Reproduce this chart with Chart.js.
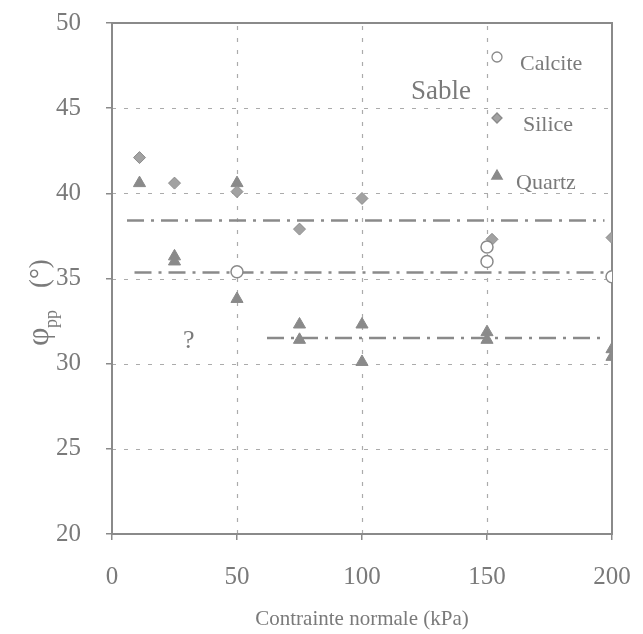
<!DOCTYPE html>
<html>
<head>
<meta charset="utf-8">
<script src="https://cdn.jsdelivr.net/npm/chart.js@4.4.0/dist/chart.umd.min.js"></script>
<style>
html,body{margin:0;padding:0;background:#fff;}
#wrap{width:643px;height:634px;position:relative;}
</style>
</head>
<body>
<div id="wrap"><canvas id="chart"></canvas></div>
<script>
// axis ticks
const xTicks = [0, 50, 100, 150, 200];
const yTicks = [20, 25, 30, 35, 40, 45, 50];

// Sable - Calcite
const calciteX = [50, 150, 150, 200];
const calciteY = [35.4, 36.85, 36.0, 35.1];

// Sable - Silice
const siliceX = [11, 25, 50, 75, 100, 152, 200];
const siliceY = [42.1, 40.6, 40.1, 37.9, 39.7, 37.3, 37.4];

// Sable - Quartz
const quartzX = [11, 25, 25, 50, 50, 75, 75, 100, 100, 150, 150, 200, 200];
const quartzY = [40.6, 36.3, 36.0, 40.6, 33.8, 32.3, 31.4, 32.3, 30.1, 31.85, 31.4, 30.85, 30.4];

// dash-dot mean lines
const meanLevels = [38.4, 35.35, 31.5];
const meanFrom = [6, 9, 62];
const meanTo = [197, 198, 198];

const GREY = "#8a8a8a";
const TXT = "#7a7a7a";
const SERIF = "'Liberation Serif', 'DejaVu Serif', serif";

function pts(xs, ys){
  return xs.map((x, i) => ({x: x, y: ys[i]}));
}

const datasets = [
  {
    label: "Calcite",
    data: pts(calciteX, calciteY),
    pointStyle: "circle",
    pointRadius: 6,
    pointBackgroundColor: "#fff",
    pointBorderColor: GREY,
    pointBorderWidth: 1.5,
    showLine: false
  },
  {
    label: "Silice",
    data: pts(siliceX, siliceY),
    pointStyle: "rectRot",
    pointRadius: 6,
    pointBackgroundColor: "#a2a2a2",
    pointBorderColor: "#8c8c8c",
    pointBorderWidth: 1,
    showLine: false
  },
  {
    label: "Quartz",
    data: pts(quartzX, quartzY),
    pointStyle: "triangle",
    pointRadius: 7,
    pointBackgroundColor: GREY,
    pointBorderColor: GREY,
    pointBorderWidth: 1,
    showLine: false
  }
];

meanLevels.forEach((lv, i) => {
  datasets.push({
    label: "moy" + i,
    data: [{x: meanFrom[i], y: lv}, {x: meanTo[i], y: lv}],
    showLine: true,
    borderColor: GREY,
    borderWidth: 2.5,
    borderDash: [17, 7, 3, 7],
    pointRadius: 0,
    fill: false
  });
});

/* grid + frame, under the markers */
const framePlugin = {
  id: "frame",
  beforeDatasetsDraw(chart){
    const ctx = chart.ctx;
    const a = chart.chartArea;
    const xs = chart.scales.x, ys = chart.scales.y;
    ctx.save();
    ctx.strokeStyle = "#ababab";
    ctx.lineWidth = 1.2;
    ctx.setLineDash([4, 8]);
    xTicks.slice(1, -1).forEach(v => {
      const px = Math.round(xs.getPixelForValue(v)) + 0.5;
      ctx.beginPath(); ctx.moveTo(px, a.bottom); ctx.lineTo(px, a.top); ctx.stroke();
    });
    yTicks.slice(1, -1).forEach(v => {
      const py = Math.round(ys.getPixelForValue(v)) + 0.5;
      ctx.beginPath(); ctx.moveTo(a.left, py); ctx.lineTo(a.right, py); ctx.stroke();
    });
    ctx.setLineDash([]);
    ctx.strokeStyle = GREY;
    ctx.lineWidth = 2;
    ctx.strokeRect(a.left, a.top, a.right - a.left, a.bottom - a.top);
    ctx.restore();
  }
};

/* hand placed legend, labels and y title */
const textPlugin = {
  id: "texts",
  afterDraw(chart){
    const ctx = chart.ctx;
    ctx.save();
    ctx.fillStyle = TXT;
    ctx.textBaseline = "middle";
    ctx.textAlign = "left";

    // legend
    const leg = [
      {style: "circle", r: 5, fill: "#fff", y: 57, txt: "Calcite", tx: 520, ty: 64},
      {style: "rectRot", r: 5, fill: "#a2a2a2", y: 118, txt: "Silice", tx: 523, ty: 125},
      {style: "triangle", r: 6, fill: GREY, y: 176, txt: "Quartz", tx: 516, ty: 183}
    ];
    leg.forEach(l => {
      ctx.fillStyle = l.fill;
      ctx.strokeStyle = GREY;
      ctx.lineWidth = 1.3;
      Chart.helpers.drawPoint(ctx, {pointStyle: l.style, radius: l.r, borderWidth: 1.3}, 497, l.y);
      ctx.fillStyle = TXT;
      ctx.font = "22px " + SERIF;
      ctx.fillText(l.txt, l.tx, l.ty);
    });

    ctx.font = "27px " + SERIF;
    ctx.fillText("Sable", 411, 92);
    ctx.font = "26px " + SERIF;
    ctx.fillText("?", 183, 341);

    // y axis title: phi_pp (°)
    ctx.translate(40, 300);
    ctx.rotate(-Math.PI / 2);
    ctx.textBaseline = "alphabetic";
    ctx.font = "32px " + SERIF;
    ctx.fillText("\u03c6", -46, 8);
    ctx.font = "18px " + SERIF;
    ctx.fillText("pp", -28, 17);
    ctx.font = "27px " + SERIF;
    ctx.fillText("(\u00b0)", 12, 8);
    ctx.restore();
  }
};

new Chart(document.getElementById("chart"), {
  type: "scatter",
  data: { datasets: datasets },
  options: {
    responsive: true,
    maintainAspectRatio: false,
    animation: false,
    layout: { padding: { top: 23, right: 31, left: 0, bottom: 0 } },
    plugins: {
      legend: { display: false },
      tooltip: { enabled: false }
    },
    scales: {
      x: {
        type: "linear",
        min: 0, max: 200,
        afterBuildTicks: s => { s.ticks = xTicks.map(v => ({value: v})); },
        afterFit: s => { s.height = 100; s.paddingLeft = 0; s.paddingRight = 0; },
        grid: { drawOnChartArea: false, drawTicks: true, tickLength: 6, tickColor: GREY, lineWidth: 1.5 },
        border: { display: true, color: GREY, width: 2 },
        ticks: { color: TXT, font: { family: SERIF, size: 25 }, padding: 22, maxRotation: 0 },
        title: {
          display: true,
          text: "Contrainte normale (kPa)",
          color: TXT,
          font: { family: SERIF, size: 21 },
          padding: { top: 0, bottom: 2 }
        }
      },
      y: {
        type: "linear",
        min: 20, max: 50,
        afterBuildTicks: s => { s.ticks = yTicks.map(v => ({value: v})); },
        afterFit: s => { s.width = 112; s.paddingTop = 0; s.paddingBottom = 0; },
        grid: { drawOnChartArea: false, drawTicks: true, tickLength: 6, tickColor: GREY, lineWidth: 1.5 },
        border: { display: true, color: GREY, width: 2 },
        ticks: { color: TXT, font: { family: SERIF, size: 25 }, padding: 25 }
      }
    }
  },
  plugins: [framePlugin, textPlugin]
});
</script>
</body>
</html>
